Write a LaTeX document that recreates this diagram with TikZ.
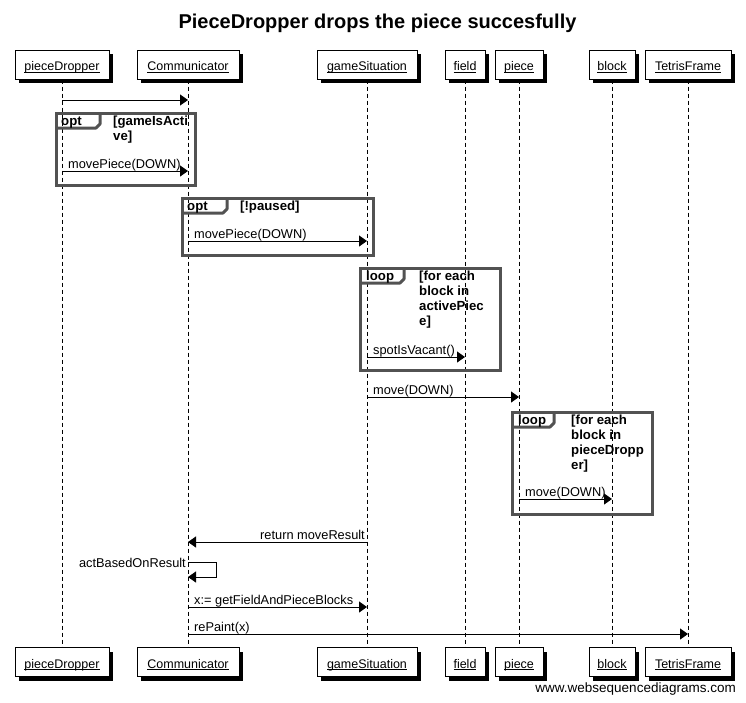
\documentclass[tikz,border=0pt]{standalone}
\usepackage{fontspec}
\setmainfont{Liberation Sans}
\usetikzlibrary{arrows.meta,shadows}
\definecolor{framegray}{RGB}{82,82,82}
\newcommand\msgfont{\fontsize{12.8}{15}\selectfont}
\newcommand\actfont{\fontsize{12.5}{15}\selectfont}
\newcommand\grdfont{\bfseries\fontsize{13.2}{15.3}\selectfont}
\newcommand\ulname[1]{\setbox0\hbox{#1}\rlap{\rule[-2.2pt]{\wd0}{0.8pt}}\box0}
\begin{document}
\begin{tikzpicture}[x=1pt,y=-1pt,
  actor/.style={draw=black,line width=1pt,fill=white,minimum height=29pt,inner sep=0pt,
    text height=12pt,text depth=0pt,
    font=\actfont,general shadow={fill=black,shadow xshift=4pt,shadow yshift=-4pt}},
  lifeline/.style={draw=black,line width=1pt,dash pattern=on 4pt off 3pt},
  msg/.style={draw=black,line width=1pt,-{Triangle[length=8pt,width=11pt]}},
  msglabel/.style={font=\msgfont,inner sep=0pt,anchor=base west},
  framebox/.style={draw=framegray,line width=3pt},
  grd/.style={font=\grdfont,inner sep=0pt,anchor=base west}]
\useasboundingbox (0,0) rectangle (746,702);
\fill[white] (0,0) rectangle (746,702);

\node[font=\bfseries\fontsize{20}{24}\selectfont,anchor=base,inner sep=0pt] (title) at (377.5,28) {PieceDropper drops the piece succesfully};

% participants (top)
\node[actor,minimum width=94pt] (pdT) at (62,64.5) {\ulname{pieceDropper}};
\node[actor,minimum width=102pt] (comT) at (188,64.5) {\ulname{Communicator}};
\node[actor,minimum width=100pt] (gsT) at (367,64.5) {\ulname{gameSituation}};
\node[actor,minimum width=40pt] (fieldT) at (465,64.5) {\ulname{field}};
\node[actor,minimum width=48pt] (pieceT) at (519,64.5) {\ulname{piece}};
\node[actor,minimum width=46pt] (blockT) at (612,64.5) {\ulname{block}};
\node[actor,minimum width=86pt] (tfT) at (688,64.5) {\ulname{TetrisFrame}};
% participants (bottom)
\node[actor,minimum width=94pt] (pdB) at (62,662) {\ulname{pieceDropper}};
\node[actor,minimum width=102pt] (comB) at (188,662) {\ulname{Communicator}};
\node[actor,minimum width=100pt] (gsB) at (367,662) {\ulname{gameSituation}};
\node[actor,minimum width=40pt] (fieldB) at (465,662) {\ulname{field}};
\node[actor,minimum width=48pt] (pieceB) at (519,662) {\ulname{piece}};
\node[actor,minimum width=46pt] (blockB) at (612,662) {\ulname{block}};
\node[actor,minimum width=86pt] (tfB) at (688,662) {\ulname{TetrisFrame}};

% lifelines
\draw[lifeline] (pdT) -- (pdB);
\draw[lifeline] (comT) -- (comB);
\draw[lifeline] (gsT) -- (gsB);
\draw[lifeline] (fieldT) -- (fieldB);
\draw[lifeline] (pieceT) -- (pieceB);
\draw[lifeline] (blockT) -- (blockB);
\draw[lifeline] (tfT) -- (tfB);

% frames
% opt 1
\draw[framebox] (56,113) rectangle (195,185);
\draw[framebox,line join=round] (56,128) -- (96,128) -- (100,124) -- (100,113);
\node[grd] (opt1) at (61,125) {opt};
\node[grd] (g1a) at (113,125) {[gameIsActi};
\node[grd] (g1b) at (113,140.3) {ve]};
% opt 2
\draw[framebox] (182,198) rectangle (373,255);
\draw[framebox,line join=round] (182,213) -- (223,213) -- (227,209) -- (227,198);
\node[grd] (opt2) at (187,210) {opt};
\node[grd] (g2a) at (240,210) {[!paused]};
% loop 1
\draw[framebox] (360,268) rectangle (500,370);
\draw[framebox,line join=round] (360,283) -- (400,283) -- (404,279) -- (404,268);
\node[grd] (loop1) at (366,280) {loop};
\node[grd] (g3a) at (419,280) {[for each};
\node[grd] (g3b) at (419,295.3) {block in};
\node[grd] (g3c) at (419,310.6) {activePiec};
\node[grd] (g3d) at (419,325.9) {e]};
% loop 2
\draw[framebox] (512,412) rectangle (652,514);
\draw[framebox,line join=round] (512,427) -- (550,427) -- (554,423) -- (554,412);
\node[grd] (loop2) at (518,424) {loop};
\node[grd] (g4a) at (571,424) {[for each};
\node[grd] (g4b) at (571,439.3) {block in};
\node[grd] (g4c) at (571,454.6) {pieceDropp};
\node[grd] (g4d) at (571,469.9) {er]};

% message end points
\coordinate (m1s) at (62,100);   \coordinate (m1e) at (188,100);
\coordinate (m2s) at (62,171);   \coordinate (m2e) at (188,171);
\coordinate (m3s) at (188,241);  \coordinate (m3e) at (367,241);
\coordinate (m4s) at (367,357);  \coordinate (m4e) at (465,357);
\coordinate (m5s) at (367,397);  \coordinate (m5e) at (519,397);
\coordinate (m6s) at (519,499);  \coordinate (m6e) at (612,499);
\coordinate (m7s) at (367,542);  \coordinate (m7e) at (188,542);
\coordinate (m8s) at (188,562);  \coordinate (m8e) at (188,577);
\coordinate (m9s) at (188,607);  \coordinate (m9e) at (367,607);
\coordinate (m10s) at (188,634); \coordinate (m10e) at (688,634);

% messages
\draw[msg] (m1s) -- (m1e);
\draw[msg] (m2s) -- (m2e);
\node[msglabel] (l2) at (68,168) {movePiece(DOWN)};
\draw[msg] (m3s) -- (m3e);
\node[msglabel] (l3) at (194,238) {movePiece(DOWN)};
\draw[msg] (m4s) -- (m4e);
\node[msglabel] (l4) at (373,354) {spotIsVacant()};
\draw[msg] (m5s) -- (m5e);
\node[msglabel] (l5) at (373,394) {move(DOWN)};
\draw[msg] (m6s) -- (m6e);
\node[msglabel] (l6) at (525,496) {move(DOWN)};
\draw[msg] (m7s) -- (m7e);
\node[msglabel,anchor=base east] (l7) at (365,539) {return moveResult};
\draw[msg] (m8s) -- (216,562) -- (216,577) -- (m8e);
\node[msglabel,anchor=base east] (l8) at (186,567) {actBasedOnResult};
\draw[msg] (m9s) -- (m9e);
\node[msglabel] (l9) at (194,604) {x:= getFieldAndPieceBlocks};
\draw[msg] (m10s) -- (m10e);
\node[msglabel] (l10) at (194,631) {rePaint(x)};

% watermark
\node[font=\fontsize{13.5}{16}\selectfont,inner sep=0pt,anchor=base east] (wm) at (736,692) {www.websequencediagrams.com};
\end{tikzpicture}
\end{document}
